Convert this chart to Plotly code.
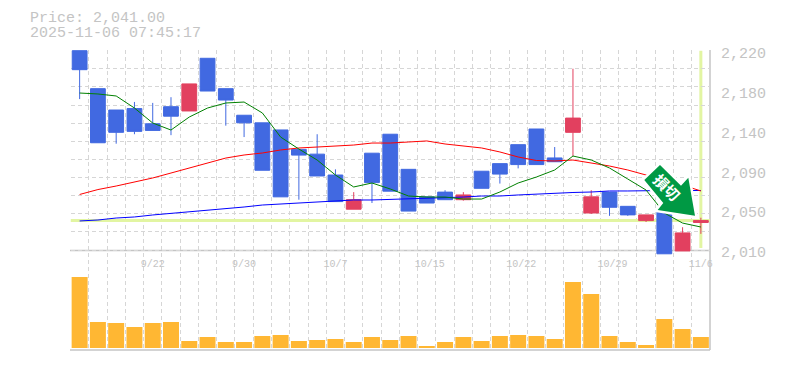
import plotly.graph_objects as go

TITLE_PRICE = "Price: 2,041.00"
TITLE_TIME = "2025-11-06 07:45:17"
LAST_PRICE = 2041
SIGNAL_LABEL = "損切"

index = list(range(35))
date_idx = [4, 9, 14, 19, 24, 29, 34]
date_labels = ["9/22", "9/30", "10/7", "10/15", "10/22", "10/29", "11/6"]

open_ = [2220, 2180, 2157.5, 2159, 2143, 2161, 2156.5, 2212, 2180, 2152, 2144, 2136.5, 2116, 2111,
         2089, 2053, 2112, 2132, 2095, 2066, 2071, 2063, 2093, 2101, 2121, 2137.5, 2107, 2134,
         2049, 2071, 2056, 2041, 2050, 2009, 2039]
close = [2200, 2123, 2134, 2135, 2136, 2151, 2185, 2177.5, 2168, 2144, 2094, 2066, 2110, 2088,
         2061, 2063, 2081, 2072, 2051, 2059.5, 2063, 2068, 2075, 2090, 2100, 2100, 2103, 2149,
         2066, 2055, 2047, 2047, 2006, 2028, 2041]
high = [2220, 2180, 2157.5, 2166, 2165, 2171, 2185, 2212, 2180, 2152, 2144, 2136.5, 2116, 2132,
        2095, 2071, 2112, 2132, 2095, 2066, 2073, 2071, 2093, 2101, 2121, 2137.5, 2118.5, 2201,
        2073, 2071, 2056, 2047, 2050, 2034, 2044]
low = [2169, 2123, 2122, 2132, 2136, 2131, 2156.5, 2177.5, 2141, 2129, 2094, 2066, 2063, 2088,
       2061, 2053, 2059.5, 2072, 2051, 2059.5, 2063, 2062, 2075, 2080, 2096, 2100, 2103, 2109,
       2048, 2046, 2046, 2039.5, 2006, 2009, 2027]

ma_short = [2175.4, 2174.4, 2172.3, 2159.6, 2143.8, 2136.4, 2150.1, 2159.6, 2164.9, 2165.9, 2154.4, 2129,
            2116.4, 2104.8, 2089, 2076.4, 2080.6, 2074.3, 2066.9, 2065.8, 2065.8, 2063.7, 2063.7, 2071.1,
            2080.6, 2086.9, 2094.3, 2109, 2104.8, 2096.4, 2084.8, 2073.2, 2049, 2038.4, 2034.2]
ma_mid = [2068.5, 2073.7, 2077.4, 2081.7, 2085.9, 2091.1, 2096.4, 2101.7, 2106.9, 2110.1, 2112.2, 2115.4,
          2117.5, 2118.5, 2119.6, 2120.6, 2122.7, 2122.7, 2123.8, 2124.9, 2121.7, 2119.6, 2117.5, 2113.3,
          2108, 2104.3, 2103.8, 2104.8, 2101.7, 2098.5, 2094.3, 2089, 2084.8, 2078.5, 2072.2]
ma_long = [2040.6, 2041.6, 2043.7, 2044.8, 2046.9, 2048.5, 2050, 2052.1, 2053.7, 2055.3, 2057.4, 2058.5,
           2059.5, 2060.6, 2061.6, 2062.7, 2062.7, 2063.2, 2063.7, 2064.8, 2065.3, 2065.8, 2066.9, 2066.9,
           2068, 2069, 2070, 2070.6, 2071.1, 2072.2, 2072.2, 2072.7, 2072.7, 2072.7, 2072.7]
volume = [71, 26, 25, 21, 25, 26, 7, 11, 6, 6, 12, 13, 7, 8, 9, 6, 11, 8, 12, 2, 6, 11, 7, 12, 13, 12, 9,
          66, 54, 12, 6, 3, 29, 19, 11]

price_ticks = [2220, 2178, 2136, 2094, 2052, 2010]
price_labels = ["2,220", "2,180", "2,140", "2,090", "2,050", "2,010"]

W, H = 785, 370
L, R = 70.5, 710.0
FONT = "Liberation Mono, monospace"
GRAY = "#c4c4c4"
GRID = "#d6d6d6"


def px(x):
    return x / W


def py(y):
    return 1 - y / H


def dom(top, bottom):
    return [py(bottom), py(top)]


x_range = [-0.5, 34.5]
grid_x = [i - 0.5 for i in range(36)]
unit = (250 - 50.7) / 210
y_top, y_bottom = 50.0, 256.0
price_range = [2010 - (y_bottom - 250) / unit, 2220 + (50.7 - y_top) / unit]
grid_y = [2220 - i * 210 / 11 for i in range(12)]
# the reference's date labels are left-aligned on the candle: wider labels sit further right
slot = (R - L) / 35
date_pos = [i + (len(t) - 4) * 3 / slot for i, t in zip(date_idx, date_labels)]
DASH = "4px,3px"

fig = go.Figure()

# carrier for the full-height vertical grid
fig.add_trace(go.Scatter(x=index, y=[0.5] * len(index), mode="markers", marker=dict(opacity=0, size=1),
                         hoverinfo="skip", xaxis="x", yaxis="y3", showlegend=False))

for vals, col in ((ma_long, "#0000ff"), (ma_mid, "#ff0000"), (ma_short, "#008000")):
    fig.add_trace(go.Scatter(x=index, y=vals, mode="lines", line=dict(color=col, width=1),
                             xaxis="x2", yaxis="y", showlegend=False))

fig.add_trace(go.Candlestick(
    x=index, open=open_, high=high, low=low, close=close, xaxis="x2", yaxis="y",
    whiskerwidth=0, showlegend=False,
    increasing=dict(line=dict(color="#e2405f", width=1), fillcolor="#e2405f"),
    decreasing=dict(line=dict(color="#4169e1", width=1), fillcolor="#4169e1"),
))
fig.add_trace(go.Bar(x=index, y=volume, width=0.875, marker=dict(color="#ffb733", line_width=0),
                     xaxis="x2", yaxis="y2", showlegend=False))

LIME = "#e2f5a2"
shapes = [
    dict(type="line", xref="x2", yref="y", x0=-0.5, x1=34.5, y0=LAST_PRICE, y1=LAST_PRICE,
         line=dict(color=LIME, width=3), layer="below"),
    dict(type="line", xref="x2", yref="y", x0=34, x1=34, y0=2012, y1=2220,
         line=dict(color=LIME, width=3), layer="below"),
    dict(type="line", xref="paper", yref="paper", x0=px(70), x1=px(710), y0=py(250.5), y1=py(250.5),
         line=dict(color=GRAY, width=1.5), layer="below"),
    dict(type="line", xref="paper", yref="paper", x0=px(70), x1=px(710), y0=py(350), y1=py(350),
         line=dict(color=GRAY, width=1.5), layer="below"),
    dict(type="line", xref="paper", yref="paper", x0=px(710), x1=px(710), y0=py(50), y1=py(350),
         line=dict(color=GRAY, width=1.5), layer="below"),
]
arrow_pts = [(660, 165), (644.3, 180), (663.3, 203), (657.7, 210), (695, 215.7), (688.3, 177.7), (681, 185.7)]
arrow_path = "M " + " L ".join(f"{px(a):.5f},{py(b):.5f}" for a, b in arrow_pts) + " Z"
shapes.append(dict(type="path", xref="paper", yref="paper", path=arrow_path, fillcolor="white",
                   line=dict(color="white", width=5), layer="above"))
shapes.append(dict(type="path", xref="paper", yref="paper", path=arrow_path, fillcolor="#009944",
                   line=dict(width=0), layer="above"))

annotations = [
    dict(text=TITLE_PRICE, x=px(28), y=py(18), xref="paper", yref="paper", xanchor="left", yanchor="middle",
         height=14, showarrow=False, font=dict(family=FONT, size=15, color=GRAY)),
    dict(text=TITLE_TIME, x=px(28), y=py(33), xref="paper", yref="paper", xanchor="left", yanchor="middle",
         height=14, showarrow=False, font=dict(family=FONT, size=15, color=GRAY)),
    dict(text=SIGNAL_LABEL, x=px(666.5), y=py(187), xref="paper", yref="paper", xanchor="center", yanchor="middle",
         showarrow=False, textangle=45,
         font=dict(family="Noto Sans CJK JP", size=15, color="white", weight="bold")),
]

fig.update_layout(
    width=W, height=H, margin=dict(l=0, r=0, t=0, b=0, autoexpand=False), paper_bgcolor="white",
    plot_bgcolor="rgba(0,0,0,0)",
    showlegend=False, boxgap=0.19, boxgroupgap=0, bargap=0.125, shapes=shapes, annotations=annotations,
    font=dict(family=FONT, color=GRAY),
    xaxis=dict(domain=[px(L), px(R)], range=x_range, anchor="y3", showticklabels=False, ticks="",
               showgrid=False, zeroline=False, showline=False,
               minor=dict(tickvals=grid_x, showgrid=True, gridcolor=GRID, griddash=DASH, gridwidth=1, ticks="")),
    xaxis2=dict(domain=[px(L), px(R)], range=x_range, matches="x", anchor="y", tickmode="array", tickvals=date_pos,
                ticktext=date_labels, showgrid=False, zeroline=False, showline=False, ticks="", ticklen=0,
                tickangle=0, tickfont=dict(family=FONT, size=10, color=GRAY), rangeslider=dict(visible=False)),
    yaxis=dict(domain=dom(y_top, y_bottom), range=price_range, anchor="x2", side="right", tickmode="array",
               tickvals=price_ticks, ticktext=price_labels, ticks="", showgrid=False, zeroline=False, showline=False,
               tickfont=dict(family=FONT, size=15, color=GRAY), ticklabelstandoff=10, ticklabelshift=2,
               minor=dict(tickvals=grid_y, showgrid=True, gridcolor=GRID, griddash=DASH, gridwidth=1, ticks="")),
    yaxis2=dict(domain=dom(250, 350), range=[-2, 98], anchor="x2", visible=False, showgrid=False, zeroline=False),
    yaxis3=dict(domain=dom(50, 350), range=[0, 1], anchor="x", visible=False, showgrid=False, zeroline=False,
                fixedrange=True),
)

fig.write_html("out.html", post_script="document.body.style.margin='0';",
               config=dict(displayModeBar=False))
